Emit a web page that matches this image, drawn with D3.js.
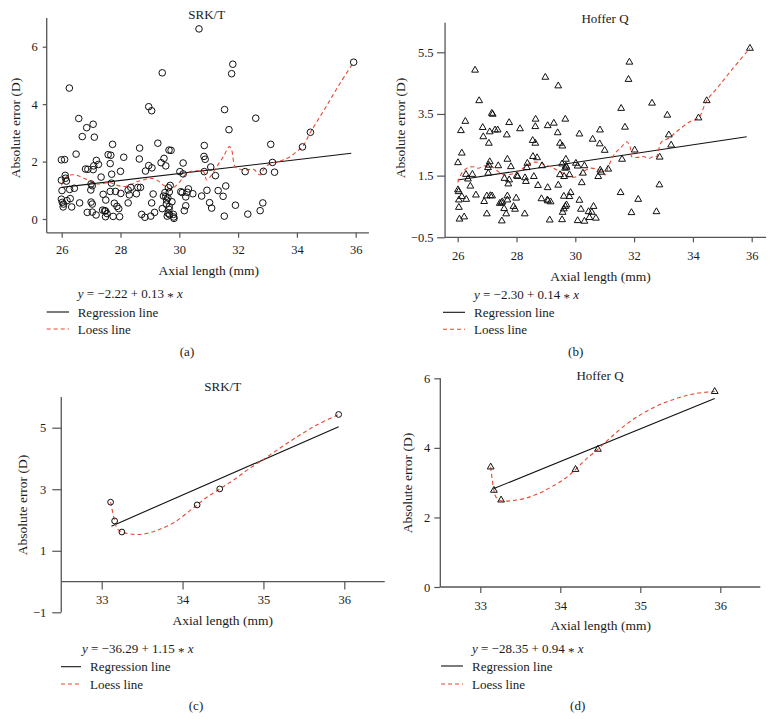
<!DOCTYPE html>
<html><head><meta charset="utf-8">
<script src="https://cdn.jsdelivr.net/npm/d3@7"></script>
<style>
body{margin:0;background:#fff;}
svg{display:block;font-family:"Liberation Serif","Times New Roman",serif;}
svg text{fill:#1a1a1a;}
</style></head>
<body>
<svg id="chart" width="775" height="719"></svg>
<script>
// ---------- DATA ----------
// Panel (a): SRK/T, all eyes
const srkAllAxial = [30.67,35.93,31.82,31.78,29.42,26.26,28.96,29.06,31.54,32.60,26.58,27.07,26.85,26.70,27.11,31.69,34.46,29.27,33.11,27.73,30.85,34.19,28.65,29.65,29.72,26.49,27.58,27.67,28.11,30.84,30.88,29.48,25.99,26.10,28.64,27.18,29.38,33.17,30.13,27.25,27.65,27.09,28.96,29.07,29.54,31.07,26.81,26.89,27.07,28.85,28.00,30.02,30.85,32.24,32.86,33.24,30.13,27.70,26.12,26.13,31.23,27.34,25.99,26.16,27.69,27.00,27.04,31.58,29.69,29.63,28.35,28.59,28.68,26.43,26.27,26.99,26.01,30.94,30.31,30.27,27.65,27.83,31.32,28.26,28.30,30.05,30.10,29.51,29.66,30.46,29.11,28.54,28.01,27.41,30.76,29.46,29.54,30.22,31.49,29.61,29.57,25.99,26.29,26.18,27.50,26.02,26.06,27.00,27.04,26.61,31.03,29.75,28.26,27.79,27.88,29.06,32.84,29.56,31.91,30.22,26.05,26.34,31.10,27.94,29.66,29.65,29.42,32.75,27.39,27.46,27.49,30.17,26.87,27.04,29.16,32.33,27.17,28.72,27.54,29.62,29.67,29.80,29.81,31.53,27.49,27.75,27.97,28.83,29.03,29.59,29.82];
const srkAllError = [6.62,5.46,5.39,5.06,5.09,4.56,3.91,3.77,3.81,3.51,3.50,3.30,3.18,2.87,2.85,3.11,3.02,2.64,2.60,2.60,2.56,2.51,2.47,2.40,2.39,2.26,2.24,2.22,2.15,2.18,2.08,2.11,2.06,2.07,2.09,2.04,1.96,1.97,1.95,1.90,1.93,1.85,1.86,1.78,1.85,1.81,1.74,1.73,1.72,1.67,1.66,1.65,1.65,1.65,1.66,1.63,1.57,1.56,1.52,1.42,1.51,1.46,1.35,1.32,1.25,1.22,1.16,1.15,1.17,1.09,1.10,1.10,1.10,1.07,1.03,1.01,0.99,1.00,1.05,0.93,0.96,0.96,0.99,1.01,0.84,0.95,0.92,0.92,0.94,0.88,0.87,0.88,0.89,0.86,0.80,0.80,0.78,0.77,0.79,0.74,0.66,0.69,0.71,0.64,0.66,0.58,0.52,0.59,0.52,0.56,0.57,0.60,0.56,0.55,0.44,0.56,0.56,0.52,0.48,0.46,0.42,0.42,0.38,0.36,0.43,0.34,0.36,0.29,0.31,0.29,0.28,0.29,0.23,0.24,0.23,0.17,0.14,0.16,0.19,0.20,0.15,0.16,0.07,0.10,0.08,0.09,0.08,0.06,0.10,0.10,0.02];
const srkAllLoessX = [25.99,26.11,26.28,26.49,26.74,26.91,27.13,27.30,27.64,27.87,28.10,28.32,28.55,28.78,29.00,29.23,29.46,29.63,29.74,29.85,30.02,30.19,30.37,30.59,30.82,30.93,31.05,31.27,31.50,31.70,31.78,31.90,32.07,32.29,32.52,32.75,32.86,32.97,33.14,33.37,33.54,33.77,33.99,34.19,34.46,34.79,35.13,35.47,35.93];
const srkAllLoessY = [1.17,1.42,1.53,1.53,1.42,1.36,1.24,1.22,1.27,1.18,1.13,1.18,1.30,1.36,1.42,1.36,1.18,1.07,1.03,1.13,1.30,1.53,1.65,1.68,1.65,1.36,1.47,1.82,2.17,2.52,2.40,1.82,1.73,1.71,1.73,1.53,1.71,1.85,1.94,2.00,2.06,2.17,2.35,2.51,3.02,3.57,4.15,4.73,5.46];
const srkAllRegX = [26.0, 35.85];
const srkAllRegY = [1.10, 2.29];

// Panel (b): Hoffer Q, all eyes
const hofAllAxial = [35.94,31.84,31.81,26.59,28.98,29.42,26.73,34.47,32.61,31.56,27.16,27.19,33.13,34.19,26.26,29.66,28.65,28.64,27.75,29.27,29.06,26.85,27.27,27.36,28.12,30.84,26.11,31.69,27.09,26.87,27.67,29.40,30.14,33.18,28.55,30.59,28.64,27.06,29.48,29.56,30.83,33.26,31.00,32.02,26.14,28.56,28.70,27.69,31.59,32.87,29.68,26.01,27.09,27.06,28.37,29.55,29.68,29.70,29.65,30.02,30.08,30.31,27.38,27.81,27.03,28.35,28.87,31.12,30.85,30.88,30.26,26.28,26.50,27.04,28.01,28.04,27.59,28.29,28.59,29.48,29.62,29.80,30.78,26.35,27.75,27.72,28.32,29.42,28.73,30.22,26.43,29.06,26.01,26.03,32.86,26.14,26.62,26.99,27.11,27.17,27.69,27.99,26.04,26.29,26.90,27.69,28.85,29.05,29.07,29.16,29.61,29.80,29.84,31.54,30.14,32.14,27.43,27.49,27.52,27.58,27.95,27.90,29.66,29.61,29.57,29.70,30.19,26.99,27.65,28.28,30.62,30.45,30.56,30.70,31.91,32.76,26.04,26.22,26.06,27.50,29.13,29.55,30.08,30.31,30.48];
const hofAllError = [5.63,5.18,4.62,4.92,4.69,4.41,3.93,3.93,3.85,3.68,3.52,3.49,3.46,3.37,3.26,3.33,3.33,3.09,3.22,3.20,3.12,3.06,2.98,2.98,3.02,2.98,2.96,3.07,2.92,2.76,2.82,2.89,2.85,2.82,2.64,2.68,2.55,2.55,2.55,2.46,2.53,2.49,2.32,2.33,2.23,2.12,2.08,2.03,2.03,2.10,2.03,1.92,1.95,1.84,1.90,1.88,1.81,1.77,1.74,1.90,1.81,1.82,1.82,1.79,1.76,1.76,1.82,1.71,1.68,1.61,1.58,1.54,1.54,1.58,1.49,1.47,1.41,1.43,1.47,1.53,1.47,1.53,1.47,1.39,1.36,1.23,1.31,1.19,1.18,1.27,1.16,1.11,1.04,0.98,1.20,0.82,0.87,0.84,0.85,0.84,0.84,0.77,0.71,0.73,0.66,0.71,0.75,0.71,0.68,0.65,0.83,0.82,0.95,0.95,0.70,0.73,0.60,0.62,0.65,0.43,0.41,0.50,0.50,0.42,0.31,0.55,0.41,0.26,0.26,0.26,0.50,0.33,0.31,0.12,0.30,0.33,0.47,0.16,0.09,0.03,0.06,0.07,0.04,0.02,0.14];
const hofAllLoessX = [26.00,26.14,26.31,26.50,26.70,26.93,27.16,27.38,27.61,27.84,28.06,28.29,28.52,28.74,28.95,29.17,29.37,29.59,29.82,30.05,30.27,30.50,30.73,30.90,31.01,31.12,31.35,31.58,31.75,31.86,31.92,32.09,32.32,32.49,32.66,32.77,32.83,32.94,33.17,33.51,33.90,34.19,34.47,34.87,35.32,35.94];
const hofAllLoessY = [1.28,1.58,1.74,1.79,1.74,1.82,1.79,1.63,1.52,1.55,1.63,1.79,1.92,1.93,1.86,1.79,1.68,1.58,1.45,1.47,1.63,1.74,1.71,1.63,1.52,1.79,2.22,2.44,2.60,2.44,2.12,2.09,2.12,2.06,2.12,2.12,2.33,2.60,2.71,2.98,3.25,3.37,3.93,4.39,4.93,5.63];
const hofAllRegX = [26.0, 35.83];
const hofAllRegY = [1.36, 2.76];

// Panel (c): SRK/T, axial length > 33 mm
const srkLongAxial = [33.11,33.16,33.25,34.18,34.46,35.93];
const srkLongError = [2.58,1.97,1.61,2.49,3.01,5.43];
const srkLongLoessX = [33.11,33.16,33.19,33.25,33.35,33.47,33.60,33.72,33.89,34.05,34.18,34.30,34.46,34.63,34.83,35.04,35.25,35.45,35.66,35.93];
const srkLongLoessY = [2.58,1.97,1.73,1.61,1.55,1.53,1.59,1.70,1.91,2.22,2.49,2.74,3.01,3.30,3.68,4.04,4.42,4.76,5.09,5.43];
const srkLongRegX = [33.12, 35.93];
const srkLongRegY = [1.80, 5.03];

// Panel (d): Hoffer Q, axial length > 33 mm
const hofLongAxial = [33.13,33.17,33.26,34.19,34.47,35.93];
const hofLongError = [3.45,2.78,2.50,3.38,3.96,5.62];
const hofLongLoessX = [33.13,33.15,33.17,33.20,33.26,33.39,33.56,33.73,33.89,34.06,34.19,34.31,34.47,34.64,34.85,35.06,35.27,35.48,35.68,35.93];
const hofLongLoessY = [3.45,3.07,2.78,2.57,2.48,2.48,2.55,2.69,2.88,3.12,3.38,3.65,3.96,4.32,4.72,5.03,5.27,5.44,5.56,5.62];
const hofLongRegX = [33.17, 35.93];
const hofLongRegY = [2.83, 5.42];

// Ticks and labels
const xTicksAll = [26,28,30,32,34,36];
const yTicksSrkAll = [0,2,4,6];
const yTicksHofAll = [-0.5,1.5,3.5,5.5];
const xTicksLong = [33,34,35,36];
const yTicksSrkLong = [-1,1,3,5];
const yTicksHofLong = [0,2,4,6];
const titles = ["SRK/T","Hoffer Q","SRK/T","Hoffer Q"];
const equations = [["−2.22","0.13"],["−2.30","0.14"],["−36.29","1.15"],["−28.35","0.94"]];
const panelLabels = ["(a)","(b)","(c)","(d)"];
const legendLabels = ["Regression line","Loess line"];
const xTitle = "Axial length (mm)";
const yTitle = "Absolute error (D)";

// ---------- DRAWING ----------
const svg = d3.select("#chart");
const AXIS = "#555";
const LOESS = "#e8472f";

function panel(c){
  const g = svg.append("g");
  const x = d3.scaleLinear().domain(c.xd).range(c.xr);
  const y = d3.scaleLinear().domain(c.yd).range(c.yr);
  const axY = y(c.xAxisAt), axX = x(c.xLine[0]);

  const xa = g.append("g").attr("transform",`translate(0,${axY})`)
    .call(d3.axisBottom(x).tickValues(c.xTicks).tickSize(c.xTick).tickPadding(c.xPad).tickFormat(d3.format("d")));
  xa.select(".domain").remove();
  g.append("line").attr("x1",x(c.xLine[0])).attr("x2",x(c.xLine[1])).attr("y1",axY).attr("y2",axY)
    .attr("stroke",AXIS).attr("stroke-width",1.3);
  const ya = g.append("g").attr("transform",`translate(${axX},0)`)
    .call(d3.axisLeft(y).tickValues(c.yTicks).tickSize(c.yTick).tickPadding(c.yPad)
      .tickFormat(d=>String(d).replace("-","−")));
  ya.select(".domain").remove();
  g.append("line").attr("x1",axX).attr("x2",axX).attr("y1",y(c.yLine[0])).attr("y2",y(c.yLine[1]))
    .attr("stroke",AXIS).attr("stroke-width",1.3);
  g.selectAll(".tick line").attr("stroke",AXIS).attr("stroke-width",1.2);
  g.selectAll(".tick text").attr("fill","#1a1a1a").style("font-size","12.5px").style("font-family","Liberation Serif, serif");

  g.append("line").attr("x1",x(c.regX[0])).attr("x2",x(c.regX[1]))
    .attr("y1",y(c.regY[0])).attr("y2",y(c.regY[1])).attr("stroke","#111").attr("stroke-width",1.1);
  const pts = c.loX.map((v,i)=>[v,c.loY[i]]);
  g.append("path").attr("d",d3.line().x(d=>x(d[0])).y(d=>y(d[1])).curve(d3.curveCatmullRom)(pts))
    .attr("fill","none").attr("stroke",LOESS).attr("stroke-width",1.1).attr("stroke-dasharray","4,3");
  const data = c.px.map((v,i)=>[v,c.py[i]]);
  if(c.marker==="circle"){
    g.selectAll("circle.pt").data(data).join("circle").attr("class","pt")
      .attr("cx",d=>x(d[0])).attr("cy",d=>y(d[1])).attr("r",c.r)
      .attr("fill","none").attr("stroke","#111").attr("stroke-width",1);
  } else {
    const sym = d3.symbol(d3.symbolTriangle, c.size);
    g.selectAll("path.pt").data(data).join("path").attr("class","pt")
      .attr("transform",d=>`translate(${x(d[0])},${y(d[1])})`).attr("d",sym)
      .attr("fill","none").attr("stroke","#111").attr("stroke-width",1);
  }

  g.append("text").attr("x",c.title[0]).attr("y",c.title[1]).attr("text-anchor","middle")
    .attr("dominant-baseline","central").style("font-size","13px").text(c.titleText);
  g.append("text").attr("x",c.xt[0]).attr("y",c.xt[1]).attr("text-anchor","middle")
    .attr("dominant-baseline","central").style("font-size","13.5px").text(xTitle);
  g.append("text").attr("transform",`translate(${c.yt[0]},${c.yt[1]}) rotate(-90)`).attr("text-anchor","middle")
    .attr("dominant-baseline","central").style("font-size","13.5px").text(yTitle);

  const eq = g.append("text").attr("x",c.eq[0]).attr("y",c.eq[1]).attr("dominant-baseline","central")
    .style("font-size","13px");
  eq.append("tspan").style("font-style","italic").text("y");
  eq.append("tspan").text(` = ${c.eqVals[0]} + ${c.eqVals[1]} `);
  eq.append("tspan").attr("dy","0.22em").text("*");
  eq.append("tspan").attr("dy","-0.22em").text(" ");
  eq.append("tspan").style("font-style","italic").text("x");

  const lg = [[c.leg[1],"#111",null],[c.leg[2],LOESS,"4,3"]];
  lg.forEach((L,i)=>{
    g.append("line").attr("x1",c.leg[0][0]).attr("x2",c.leg[0][1]).attr("y1",L[0]).attr("y2",L[0])
      .attr("stroke",L[1]).attr("stroke-width",1.1).attr("stroke-dasharray",L[2]);
    g.append("text").attr("x",c.leg[3]).attr("y",L[0]).attr("dominant-baseline","central")
      .style("font-size","13px").text(legendLabels[i]);
  });
  g.append("text").attr("x",c.lab[0]).attr("y",c.lab[1]).attr("text-anchor","middle")
    .attr("dominant-baseline","central").style("font-size","13px").text(c.labText);
}

panel({xd:[26,36],xr:[61.7,355.7],yd:[0,6],yr:[219,46.7],xAxisAt:-0.48,xLine:[25.49,36.45],yLine:[-0.48,7.0],
  xTicks:xTicksAll,yTicks:yTicksSrkAll,xTick:5,xPad:7,yTick:4,yPad:5,
  regX:srkAllRegX,regY:srkAllRegY,loX:srkAllLoessX,loY:srkAllLoessY,px:srkAllAxial,py:srkAllError,marker:"circle",r:3.3,
  title:[206.7,14],titleText:titles[0],xt:[208.8,270.7],yt:[15,128],eq:[77.7,293],eqVals:equations[0],
  leg:[[46.7,69],312,329,77.7],lab:[187,351],labText:panelLabels[0]});

panel({xd:[26,36],xr:[457.7,751.7],yd:[-0.5,5.5],yr:[237.3,52.3],xAxisAt:-0.5,xLine:[25.57,36.49],yLine:[-0.5,6.46],
  xTicks:xTicksAll,yTicks:yTicksHofAll,xTick:5,xPad:9,yTick:8,yPad:3.5,
  regX:hofAllRegX,regY:hofAllRegY,loX:hofAllLoessX,loY:hofAllLoessY,px:hofAllAxial,py:hofAllError,marker:"tri",size:20,
  title:[605,18],titleText:titles[1],xt:[600.5,276],yt:[400,128],eq:[474,294],eqVals:equations[1],
  leg:[[443,465],312.3,329.3,474],lab:[575.7,351],labText:panelLabels[1]});

panel({xd:[33,36],xr:[101.7,344.3],yd:[-1,5],yr:[612.3,427.7],xAxisAt:0,xLine:[32.5,36.5],yLine:[-1,6.0],
  xTicks:xTicksLong,yTicks:yTicksSrkLong,xTick:8,xPad:6,yTick:9,yPad:6,
  regX:srkLongRegX,regY:srkLongRegY,loX:srkLongLoessX,loY:srkLongLoessY,px:srkLongAxial,py:srkLongError,marker:"circle",r:2.9,
  title:[222.7,386.7],titleText:titles[2],xt:[222.7,620],yt:[22.7,505],eq:[82,647.7],eqVals:equations[2],
  leg:[[61,81],666.7,684,90],lab:[196,705],labText:panelLabels[2]});

panel({xd:[33,36],xr:[480.3,720.3],yd:[0,6],yr:[587,378.3],xAxisAt:0,xLine:[32.5,36.5],yLine:[0,6],
  xTicks:xTicksLong,yTicks:yTicksHofLong,xTick:6,xPad:8,yTick:6,yPad:4,
  regX:hofLongRegX,regY:hofLongRegY,loX:hofLongLoessX,loY:hofLongLoessY,px:hofLongAxial,py:hofLongError,marker:"tri",size:20,
  title:[600,375],titleText:titles[3],xt:[600.7,625],yt:[407.7,483],eq:[472,647.7],eqVals:equations[3],
  leg:[[441,463],666,684,472],lab:[577.7,705],labText:panelLabels[3]});
</script>
</body></html>
